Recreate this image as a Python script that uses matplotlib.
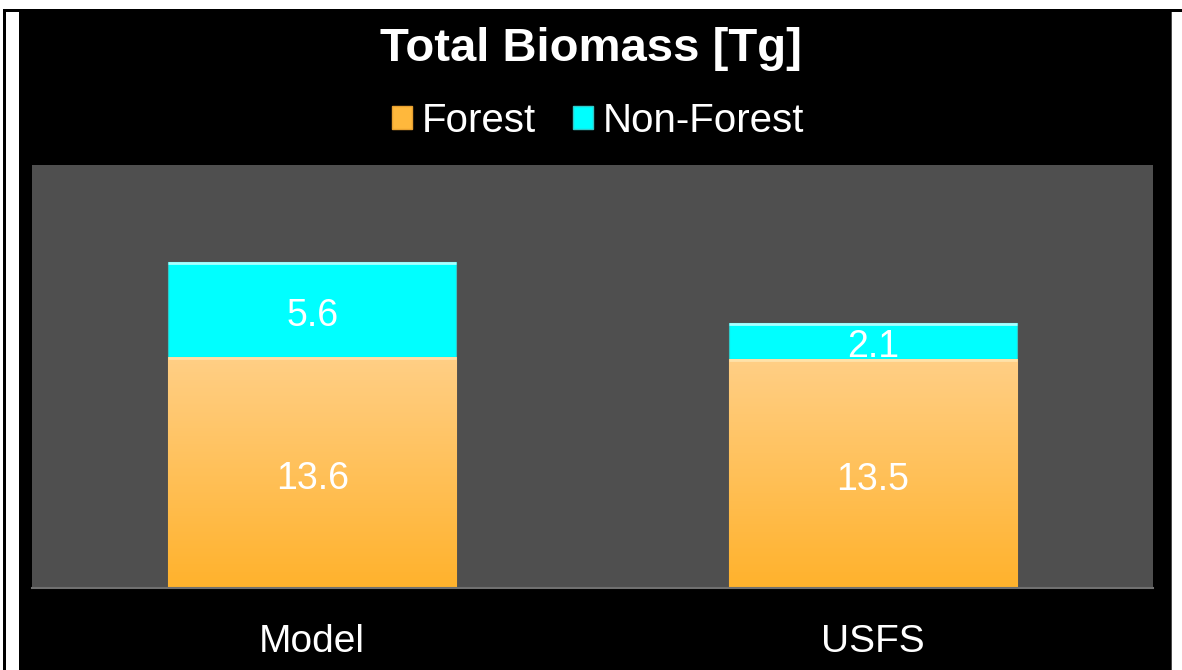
import matplotlib
matplotlib.use("Agg")
import matplotlib.pyplot as plt
import numpy as np
from matplotlib.patches import Rectangle
from matplotlib.colors import LinearSegmentedColormap

plt.rcParams['font.family'] = ['Liberation Sans', 'DejaVu Sans']

categories = ["Model", "USFS"]
forest = [13.6, 13.5]
non_forest = [5.6, 2.1]
title = "Total Biomass [Tg]"
series_names = ["Forest", "Non-Forest"]

W, H = 1182, 670
fig = plt.figure(figsize=(W / 100, H / 100), dpi=100, facecolor="white")

def frect(x0, y0, x1, y1, color, z=-10):
    # pixel coords (top-left origin) -> figure fraction
    fig.patches.append(Rectangle((x0 / W, 1 - y1 / H), (x1 - x0) / W, (y1 - y0) / H,
                                 transform=fig.transFigure, facecolor=color,
                                 edgecolor="none", zorder=z))

frect(3, 9, 1171, 670, "black")
frect(3, 9, 1182, 12, "black")
frect(6, 12, 19, 670, "white")
frect(1171, 12, 1172, 670, "#4a4a4a")

ax = fig.add_axes([32 / W, 1 - 588 / H, 1121 / W, 423 / H])
ax.set_zorder(5)
ax.set_facecolor("#4f4f4f")
ax.set_xlim(-0.5, 1.5)
ax.set_ylim(0, 24.9)

x = np.arange(len(categories))
bw = 0.514
orange = "#FFC466"
cyan = "#00FFFF"
bars_f = ax.bar(x, forest, width=bw, color=orange, edgecolor="#e8a030", linewidth=0.8, zorder=2,
                label=series_names[0])
bars_n = ax.bar(x, non_forest, bottom=forest, width=bw, color=cyan, edgecolor="#2fc8c8",
                linewidth=0.8, zorder=2, label=series_names[1])

# gradient on forest bars
cmap = LinearSegmentedColormap.from_list("og", ["#FFB22C", "#FFCF86"])
grad = np.linspace(0, 1, 256).reshape(-1, 1)
for b in bars_f:
    bx, by = b.get_x(), b.get_y()
    im = ax.imshow(grad, cmap=cmap, aspect="auto", origin="lower",
                   extent=[bx, bx + b.get_width(), by, by + b.get_height()], zorder=2.5)
    im.set_clip_path(b)
# light top highlight on segments
for b, c in list(zip(bars_f, ["#FFE2A8"] * 2)) + list(zip(bars_n, ["#A8FFFF"] * 2)):
    top = b.get_y() + b.get_height()
    ax.plot([b.get_x(), b.get_x() + b.get_width()], [top - 0.06, top - 0.06],
            color=c, lw=2, zorder=3, solid_capstyle="butt")

for i in range(len(categories)):
    ax.annotate(f"{forest[i]}", (x[i], forest[i] / 2), xytext=(0, -4.5),
                textcoords="offset points", ha="center", va="center",
                color="white", fontsize=27, zorder=4)
    ax.annotate(f"{non_forest[i]}", (x[i], forest[i] + non_forest[i] / 2), xytext=(0, -4.5),
                textcoords="offset points", ha="center", va="center",
                color="white", fontsize=27, zorder=4)

ax.set_xticks(x)
ax.set_xticklabels(categories, color="white", fontsize=28)
ax.tick_params(axis="x", length=0, pad=26)
ax.set_yticks([])
for s in ["top", "left", "right"]:
    ax.spines[s].set_visible(False)
ax.spines["bottom"].set_color("#707070")
ax.spines["bottom"].set_linewidth(1.5)

fig.text(591 / W, 1 - 49 / H, title, ha="center", va="center", color="white",
         fontsize=34, fontweight="bold")

handles = [Rectangle((0, 0), 1, 1, facecolor="#FFB83C", edgecolor="#e8a030"),
           Rectangle((0, 0), 1, 1, facecolor=cyan, edgecolor="#2fc8c8")]
fig.legend(handles, series_names, loc="center", bbox_to_anchor=(598 / W, 1 - 121 / H),
           ncol=2, frameon=False, fontsize=29, labelcolor="white",
           handlelength=0.5, handleheight=0.5, handletextpad=0.25, columnspacing=0.9,
           borderpad=0, borderaxespad=0)

fig.savefig("out.png", dpi=100, facecolor="white")
